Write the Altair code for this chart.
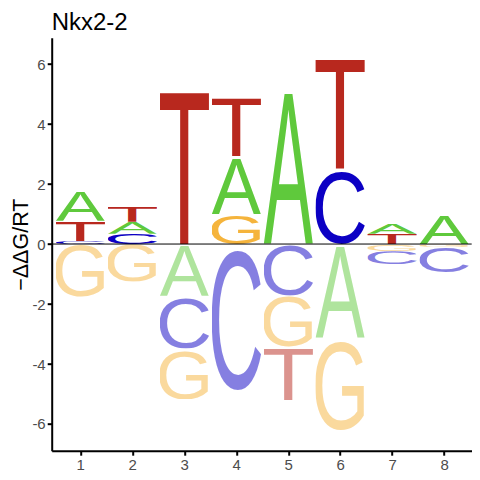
import base64
import altair as alt
import pandas as pd

# ---- data ----
positions = [1, 2, 3, 4, 5, 6, 7, 8]
pos_letters = [["C", "T", "A"], ["C", "A", "T"], ["T"], ["G", "A", "T"], ["A"], ["C", "T"], ["T", "A"], ["A"]]
pos_heights = [[0.10, 0.68, 1.00], [0.34, 0.40, 0.52], [5.21], [1.00, 1.92, 2.00], [5.17], [2.50, 3.77], [0.34, 0.37], [0.97]]
neg_letters = [["G"], ["G"], ["A", "C", "G"], ["C"], ["C", "G", "T"], ["A", "G"], ["G", "C"], ["G", "C"]]
neg_heights = [[1.77], [1.26], [1.72, 1.76, 1.70], [4.87], [1.72, 1.72, 1.76], [3.14, 3.08], [0.24, 0.44], [0.10, 0.86]]
y_ticks = [-6, -4, -2, 0, 2, 4, 6]

# ---- styling ----
colors = {"A": "#5FC93C", "C": "#0C00C4", "G": "#F5B43C", "T": "#B8281E"}
# glyph bounds of Liberation Sans (Arial metrics) at font-size 100: x0, x1, yTop, yBottom
glyph_box = {
    "A": (-0.15, 66.85, 71.58, 0.0),
    "C": (4.98, 68.26, 72.80, -1.22),
    "G": (5.47, 71.88, 72.80, -1.22),
    "T": (2.44, 58.79, 71.58, 0.0),
}
letter_width = 0.95


def letter_url(letter, opacity):
    x0, x1, top, bot = glyph_box[letter]
    w = x1 - x0
    h = top - bot
    svg = (
        f'<svg xmlns="http://www.w3.org/2000/svg" width="{w:.2f}" height="{h:.2f}" '
        f'viewBox="{x0:.2f} {-top:.2f} {w:.2f} {h:.2f}" preserveAspectRatio="none">'
        f'<text x="0" y="0" font-family="Liberation Sans, Arial, sans-serif" font-size="100" '
        f'fill="{colors[letter]}" fill-opacity="{opacity}">{letter}</text></svg>'
    )
    return "data:image/svg+xml;base64," + base64.b64encode(svg.encode()).decode()


rows = []
for p, lets, hs in zip(positions, pos_letters, pos_heights):
    base = 0.0
    for l, h in zip(lets, hs):
        rows.append({"x0": p - letter_width / 2, "x1": p + letter_width / 2,
                     "y0": base, "y1": base + h, "url": letter_url(l, 1.0)})
        base += h
for p, lets, hs in zip(positions, neg_letters, neg_heights):
    base = 0.0
    for l, h in zip(lets, hs):
        rows.append({"x0": p - letter_width / 2, "x1": p + letter_width / 2,
                     "y0": base, "y1": base - h, "url": letter_url(l, 0.5)})
        base -= h
df = pd.DataFrame(rows)

FONT = "Liberation Sans"
xscale = alt.Scale(domain=[0.45, 8.53], nice=False, zero=False)
yscale = alt.Scale(domain=[-6.89, 6.88], nice=False, zero=False)

letters = alt.Chart(df).mark_image(aspect=False).encode(
    x=alt.X("x0:Q", scale=xscale,
            axis=alt.Axis(values=positions, title=None, grid=False, labelExpr="datum.value + ''",
                          labelFontSize=15, labelColor="#4D4D4D", labelFont=FONT, labelPadding=2,
                          tickSize=4.5, tickWidth=2, tickColor="black", domainWidth=2,
                          domainColor="black")),
    x2="x1:Q",
    y=alt.Y("y0:Q", scale=yscale,
            axis=alt.Axis(values=y_ticks, title="−ΔΔG/RT", grid=False, labelExpr="datum.value + ''",
                          labelFontSize=15, labelColor="#4D4D4D", labelFont=FONT, labelPadding=2,
                          tickSize=4.5, tickWidth=2, tickColor="black", domainWidth=2,
                          domainColor="black", titleFont=FONT, titleFontSize=21.5,
                          titleFontWeight="normal", titleColor="black", titleAngle=270,
                          titleX=-24, titleY=206.5, titleAlign="center",
                          titleBaseline="alphabetic")),
    y2="y1:Q",
    url="url:N",
)

zero = alt.Chart(pd.DataFrame({"y": [0]})).mark_rule(color="black", strokeWidth=1).encode(
    y=alt.Y("y:Q", scale=yscale)
)

chart = alt.layer(letters, zero).properties(
    width=420, height=413,
    title=alt.TitleParams("Nkx2-2", anchor="start", frame="group", fontSize=24, font=FONT,
                          fontWeight="normal", color="black", offset=3),
    autosize=alt.AutoSizeParams(type="none"),
    padding={"left": 43.7, "top": 29.7, "right": 0.3, "bottom": 21},
).configure_view(stroke=None)

chart.save("out.html", embed_options={"renderer": "svg", "actions": False})
